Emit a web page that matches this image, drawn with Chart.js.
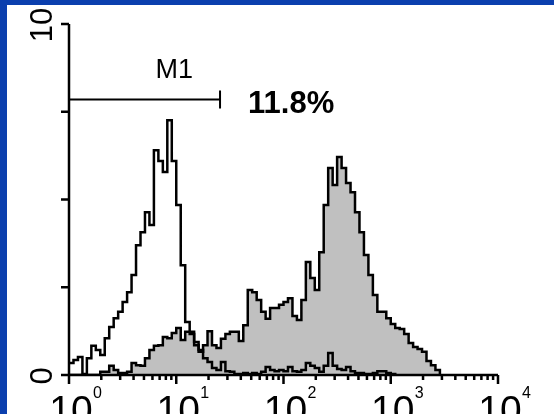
<!DOCTYPE html>
<html lang="en">
<head>
    <meta charset="UTF-8">
    <title>M1 histogram</title>
    <script src="https://cdn.jsdelivr.net/npm/chart.js@4"></script>
    <style>
        body { margin: 0; background: #fff; }
        canvas { display: block; }
    </style>
</head>
<body>

<canvas id="histChart" width="554" height="414"></canvas>

<script>
    // channel left edges, 24 per decade, 10^0 .. 10^4
    const channels = [
        1, 1.101, 1.212, 1.334, 1.468, 1.616, 1.778, 1.957, 2.154, 2.371, 2.610, 2.873,
        3.162, 3.481, 3.831, 4.217, 4.642, 5.109, 5.623, 6.190, 6.813, 7.499, 8.254, 9.085,
        10, 11.01, 12.12, 13.34, 14.68, 16.16, 17.78, 19.57, 21.54, 23.71, 26.10, 28.73,
        31.62, 34.81, 38.31, 42.17, 46.42, 51.09, 56.23, 61.90, 68.13, 74.99, 82.54, 90.85,
        100, 110.1, 121.2, 133.4, 146.8, 161.6, 177.8, 195.7, 215.4, 237.1, 261.0, 287.3,
        316.2, 348.1, 383.1, 421.7, 464.2, 510.9, 562.3, 619.0, 681.3, 749.9, 825.4, 908.5,
        1000, 1101, 1212, 1334, 1468, 1616, 1778, 1957, 2154, 2371, 2610, 2873,
        3162, 3481, 3831, 4217, 4642, 5109, 5623, 6190, 6813, 7499, 8254, 9085,
        10000
    ];

    // open (control) histogram
    const openCounts = [
        3.4, 4.3, 5.1, 0.3, 4.8, 8.3, 7.1, 5.7, 10.5, 13.7, 16.2, 18,
        20.8, 23.6, 28.5, 37, 40.7, 46.4, 42.7, 64, 61, 57.8, 72.6, 61,
        48.4, 31.3, 15.1, 11.7, 8.5, 7.1, 4.8, 3.7, 2, 1.4, 3.7, 1.1,
        0.9, 0.3, 0.3, 0.6, 0.3, 0.6, 0.3, 0.9, 2.3, 1.4, 1.1, 1.4,
        1.1, 2.3, 1.1, 0.9, 1.4, 3.4, 2.6, 2, 0.9, 2.6, 6.3, 2.6,
        1.7, 1.4, 2.3, 1.1, 0.6, 0.6, 0.3, 0.3, 0.6, 1.1, 1.1, 0.6,
        0.3, 0
    ];

    // grey filled (stained) histogram
    const filledCounts = [
        0, 0, 0, 0, 0, 0, 0, 0.9, 0.9, 2.6, 1.4, 0.6,
        0.6, 0.9, 3.4, 2.8, 2.6, 4.8, 7.1, 8.3, 8.5, 10.8, 10.5, 12,
        13.4, 10, 12.3, 12.3, 9.4, 6.6, 8.5, 12.5, 8.5, 7.7, 10.3, 11.7,
        12.3, 12.3, 9.7, 14.2, 24.2, 23.6, 21.4, 18, 16, 19.1, 19.1, 20,
        20.8, 21.9, 16.8, 15.7, 21.4, 32.2, 27.6, 24.2, 35, 48.4, 59, 54.1,
        62.1, 59, 54.7, 52.1, 46.4, 40.7, 34.2, 28.5, 22.8, 18, 18, 16.2,
        14.5, 13.4, 13.1, 11.7, 9.1, 8, 7.4, 6.6, 4, 2.8, 1.4, 0
    ];

    const decades = [0, 1, 2, 3, 4];
    const yTicks = [0, 25, 50, 75, 100];
    const yLabels = { 0: '0', 100: '10' };

    // M1 gate
    const gateRange = [1, 25.6];
    const gateLevel = 78.5;
    const gateLabel = 'M1';
    const gatePercent = '11.8%';

    const FONT = '"Liberation Sans", Arial, sans-serif';

    function toPoints(counts) {
        return counts.map((c, i) => ({ x: channels[i], y: c }));
    }

    const frame = {
        id: 'frame',
        beforeDraw(chart) {
            const c = chart.ctx;
            c.save();
            c.fillStyle = '#ffffff';
            c.fillRect(0, 0, chart.width, chart.height);
            c.fillStyle = '#0b3fae';
            c.fillRect(0, 0, 7, chart.height);
            c.fillRect(0, 0, chart.width, 5);
            c.restore();
        },
        afterDatasetsDraw(chart) {
            const c = chart.ctx;
            const xs = chart.scales.x, ys = chart.scales.y;
            const x0 = xs.getPixelForValue(1), x1 = xs.getPixelForValue(10000);
            const y0 = ys.getPixelForValue(0), y1 = ys.getPixelForValue(100);
            c.save();
            c.strokeStyle = '#000';
            c.fillStyle = '#000';
            c.lineWidth = 2.5;
            c.beginPath();
            c.moveTo(x0, y1); c.lineTo(x0, y0); c.lineTo(x1, y0);
            // y ticks
            yTicks.forEach(v => {
                const p = ys.getPixelForValue(v);
                c.moveTo(x0 - 8, p); c.lineTo(x0, p);
            });
            // x ticks, log minor
            decades.forEach(e => {
                const base = Math.pow(10, e);
                const p = xs.getPixelForValue(base);
                c.moveTo(p, y0); c.lineTo(p, y0 + 9);
                if (e < 4) {
                    for (let m = 2; m <= 9; m++) {
                        const q = xs.getPixelForValue(base * m);
                        c.moveTo(q, y0); c.lineTo(q, y0 + 5);
                    }
                }
            });
            c.stroke();

            // y labels, rotated
            c.font = '31px ' + FONT;
            c.textAlign = 'center';
            c.textBaseline = 'alphabetic';
            Object.keys(yLabels).forEach(v => {
                const p = ys.getPixelForValue(+v);
                c.save();
                c.translate(x0 - 17, p + 1);
                c.rotate(-Math.PI / 2);
                c.fillText(yLabels[v], 0, 0);
                c.restore();
            });

            // x labels 10^n
            decades.forEach(e => {
                const p = xs.getPixelForValue(Math.pow(10, e));
                c.font = '39px ' + FONT;
                c.textAlign = 'center';
                c.fillText('10', p + 2, y0 + 48);
                c.font = '16px ' + FONT;
                c.textAlign = 'left';
                c.fillText(String(e), p + 24, y0 + 23);
            });

            // gate marker
            const gx0 = xs.getPixelForValue(gateRange[0]);
            const gx1 = xs.getPixelForValue(gateRange[1]);
            const gy = ys.getPixelForValue(gateLevel);
            c.lineWidth = 2;
            c.beginPath();
            c.moveTo(gx0, gy); c.lineTo(gx1, gy);
            c.moveTo(gx1, gy - 9); c.lineTo(gx1, gy + 9);
            c.stroke();
            c.font = '27px ' + FONT;
            c.textAlign = 'center';
            c.fillText(gateLabel, xs.getPixelForValue(9.6), gy - 21);
            c.font = 'bold 31px ' + FONT;
            c.textAlign = 'left';
            c.fillText(gatePercent, gx1 + 28, gy + 14);
            c.restore();
        }
    };

    const ctx = document.getElementById('histChart').getContext('2d');
    const chart = new Chart(ctx, {
        type: 'line',
        data: {
            datasets: [{
                label: 'Control',
                data: toPoints(openCounts),
                borderColor: '#000',
                borderWidth: 2.5,
                stepped: true,
                fill: false,
                pointRadius: 0
            }, {
                label: 'Stained',
                data: toPoints(filledCounts),
                borderColor: '#000',
                backgroundColor: '#c0c0c0',
                borderWidth: 2.5,
                stepped: true,
                fill: 'origin',
                pointRadius: 0
            }]
        },
        options: {
            responsive: false,
            animation: false,
            layout: { padding: { left: 69, right: 56, top: 24, bottom: 39 } },
            scales: {
                x: { type: 'logarithmic', min: 1, max: 10000, display: false },
                y: { min: 0, max: 100, display: false }
            },
            plugins: {
                legend: { display: false },
                tooltip: { enabled: false }
            }
        },
        plugins: [frame]
    });
</script>

</body>
</html>
